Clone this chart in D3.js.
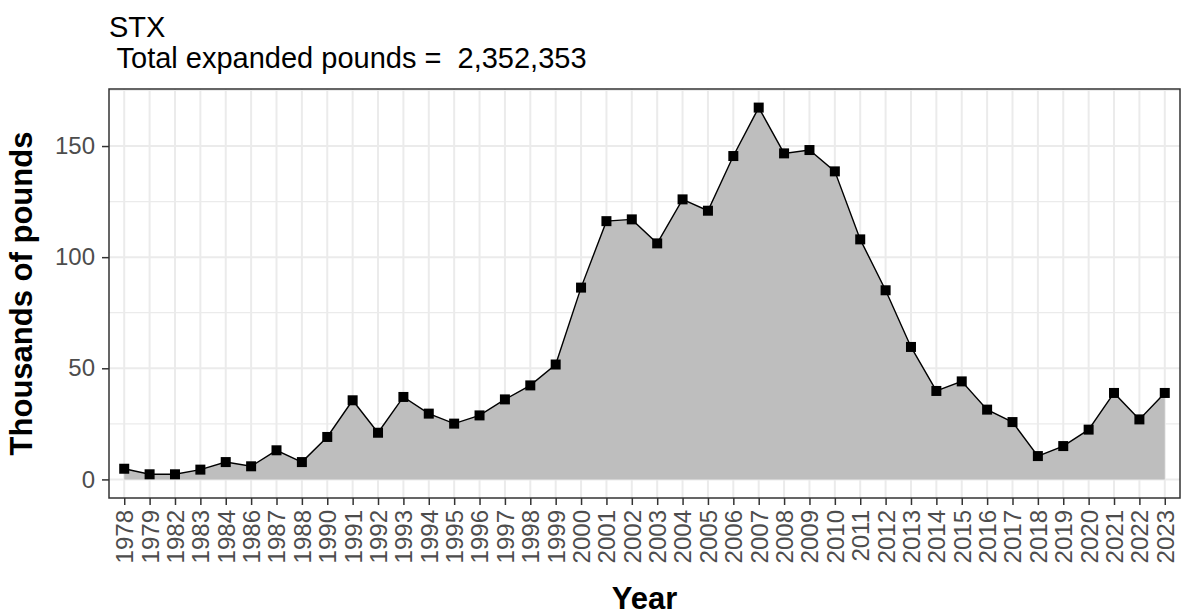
<!DOCTYPE html>
<html>
<head>
<meta charset="utf-8">
<script src="https://cdn.jsdelivr.net/npm/d3@7"></script>
<style>
  body { margin: 0; background: #fff; }
  svg { display: block; font-family: Arial, "Liberation Sans", sans-serif; }
</style>
</head>
<body>
<div id="chart"></div>
<script>
// data (thousands of pounds)
const years = ["1978","1979","1982","1983","1984","1986","1987","1988","1990","1991",
  "1992","1993","1994","1995","1996","1997","1998","1999","2000","2001",
  "2002","2003","2004","2005","2006","2007","2008","2009","2010","2011",
  "2012","2013","2014","2015","2016","2017","2018","2019","2020","2021",
  "2022","2023"];
const pounds = [4.8, 2.3, 2.3, 4.4, 7.8, 5.9, 13.1, 7.8, 19.1, 35.6,
  21.0, 37.1, 29.6, 25.1, 28.8, 36.0, 42.3, 51.7, 86.3, 116.2,
  117.0, 106.2, 126.0, 120.9, 145.5, 167.3, 146.7, 148.2, 138.6, 108.0,
  85.1, 59.6, 39.8, 44.1, 31.4, 25.8, 10.5, 15.0, 22.4, 38.9,
  27.0, 38.9];
const yTicks = [0, 50, 100, 150];
const yMinor = [25, 75, 125, 175];
const titleText = "STX";
const subtitleText = " Total expanded pounds =  2,352,353";

const data = years.map((y, i) => ({ year: y, value: pounds[i] }));

const width = 1182, height = 615;
const panel = { left: 109, right: 1180, top: 89, bottom: 498 };

const svg = d3.select("#chart").append("svg")
  .attr("width", width)
  .attr("height", height);

// discrete x with ggplot-like expansion
const x = d3.scalePoint()
  .domain(years)
  .range([panel.left, panel.right])
  .padding(0.6);

const maxV = d3.max(pounds);
const pad = maxV * 0.05;
const y = d3.scaleLinear()
  .domain([-pad, maxV + pad])
  .range([panel.bottom, panel.top]);

// grid
const grid = svg.append("g");
grid.selectAll(".minor")
  .data(yMinor.filter(d => d < maxV + pad))
  .join("line")
  .attr("x1", panel.left).attr("x2", panel.right)
  .attr("y1", d => y(d)).attr("y2", d => y(d))
  .attr("stroke", "#ebebeb").attr("stroke-width", 1.2);
grid.selectAll(".majorY")
  .data(yTicks)
  .join("line")
  .attr("x1", panel.left).attr("x2", panel.right)
  .attr("y1", d => y(d)).attr("y2", d => y(d))
  .attr("stroke", "#ebebeb").attr("stroke-width", 2);
grid.selectAll(".majorX")
  .data(years)
  .join("line")
  .attr("x1", d => x(d)).attr("x2", d => x(d))
  .attr("y1", panel.top).attr("y2", panel.bottom)
  .attr("stroke", "#ebebeb").attr("stroke-width", 2);

// area + line + points
const area = d3.area()
  .x(d => x(d.year))
  .y0(y(0))
  .y1(d => y(d.value));
svg.append("path")
  .datum(data)
  .attr("d", area)
  .attr("fill", "#bebebe");

const line = d3.line()
  .x(d => x(d.year))
  .y(d => y(d.value));
svg.append("path")
  .datum(data)
  .attr("d", line)
  .attr("fill", "none")
  .attr("stroke", "#000")
  .attr("stroke-width", 1.4);

const s = 10;
svg.selectAll(".pt")
  .data(data)
  .join("rect")
  .attr("x", d => x(d.year) - s / 2)
  .attr("y", d => y(d.value) - s / 2)
  .attr("width", s)
  .attr("height", s)
  .attr("fill", "#000");

// panel border
svg.append("rect")
  .attr("x", panel.left).attr("y", panel.top)
  .attr("width", panel.right - panel.left)
  .attr("height", panel.bottom - panel.top)
  .attr("fill", "none")
  .attr("stroke", "#333333")
  .attr("stroke-width", 1.5);

// axes
const xAxis = svg.append("g")
  .attr("transform", `translate(0,${panel.bottom})`)
  .call(d3.axisBottom(x).tickSizeOuter(0).tickSizeInner(7).tickPadding(6));
xAxis.select(".domain").remove();
xAxis.selectAll(".tick line").attr("stroke", "#333333").attr("stroke-width", 1.5);
xAxis.selectAll(".tick text")
  .attr("font-size", 24)
  .attr("fill", "#4d4d4d")
  .attr("font-family", "Arial, 'Liberation Sans', sans-serif")
  .attr("text-anchor", "end")
  .attr("transform", "rotate(-90)")
  .attr("x", -12)
  .attr("y", 0)
  .attr("dy", "0.35em");

const yAxis = svg.append("g")
  .attr("transform", `translate(${panel.left},0)`)
  .call(d3.axisLeft(y).tickValues(yTicks).tickSizeOuter(0).tickSizeInner(7).tickPadding(7));
yAxis.select(".domain").remove();
yAxis.selectAll(".tick line").attr("stroke", "#333333").attr("stroke-width", 1.5);
yAxis.selectAll(".tick text")
  .attr("font-size", 24)
  .attr("fill", "#4d4d4d")
  .attr("font-family", "Arial, 'Liberation Sans', sans-serif");

// titles
svg.append("text")
  .attr("x", panel.left).attr("y", 37)
  .attr("font-size", 29)
  .attr("fill", "#000")
  .text(titleText);
svg.append("text")
  .attr("x", panel.left).attr("y", 68)
  .attr("font-size", 29)
  .attr("fill", "#000")
  .style("white-space", "pre")
  .text(subtitleText);

svg.append("text")
  .attr("x", (panel.left + panel.right) / 2)
  .attr("y", 609)
  .attr("text-anchor", "middle")
  .attr("font-size", 31)
  .attr("font-weight", "bold")
  .attr("fill", "#000")
  .text("Year");

svg.append("text")
  .attr("transform", `translate(32,${(panel.top + panel.bottom) / 2}) rotate(-90)`)
  .attr("text-anchor", "middle")
  .attr("font-size", 31)
  .attr("font-weight", "bold")
  .attr("fill", "#000")
  .text("Thousands of pounds");
</script>
</body>
</html>
